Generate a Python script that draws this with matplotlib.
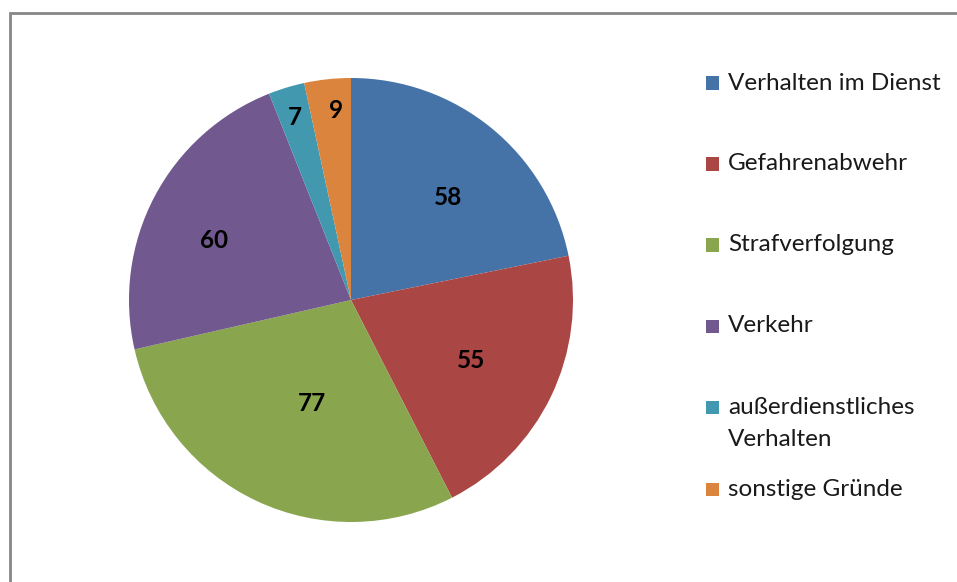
import numpy as np
import matplotlib
matplotlib.use("Agg")
import matplotlib.pyplot as plt
from matplotlib.patches import Rectangle

CATEGORIES = ["Verhalten im Dienst", "Gefahrenabwehr", "Strafverfolgung",
              "Verkehr", "außerdienstliches\nVerhalten", "sonstige Gründe"]
VALUES = [58, 55, 77, 60, 7, 9]
COLOURS = ["#4572A7", "#AA4643", "#89A54E", "#71588F", "#4198AF", "#DB843D"]

# value-label placement: fraction of the radius and angle nudge (degrees)
LABEL_R = [0.645, 0.60, 0.49, 0.675, 0.872, 0.868]
LABEL_DA = [-3.5, 0.0, 4.0, 3.6, 0.0, -1.5]

W, H = 957, 582
FONT = "Lato"

fig = plt.figure(figsize=(W / 100, H / 100), dpi=100)

# chart frame (only left and top edges visible in the crop)
fig.add_artist(Rectangle((9.5 / W, -0.1), 2.0, (H - 12.5) / H + 0.1,
                         transform=fig.transFigure, fill=False,
                         edgecolor="#878787", linewidth=2.0))

cx, cy, r = 351, H - 300, 222
ax = fig.add_axes([(cx - r) / W, (cy - r) / H, 2 * r / W, 2 * r / H])
wedges, _ = ax.pie(VALUES, colors=COLOURS, startangle=90, counterclock=False,
                   wedgeprops={"linewidth": 0})
ax.set_xlim(-1, 1)
ax.set_ylim(-1, 1)
ax.set_aspect("auto")
ax.axis("off")

for w, v, lr, da in zip(wedges, VALUES, LABEL_R, LABEL_DA):
    mid = np.deg2rad((w.theta1 + w.theta2) / 2 + da)
    ax.text(lr * np.cos(mid), lr * np.sin(mid) - 0.01, str(v), ha="center",
            va="center", fontsize=17.5, fontweight="bold", family=FONT,
            color="#000000")

# legend, drawn by hand so the square sits on the first text line
y = H - 83
for label, colour in zip(CATEGORIES, COLOURS):
    lines = label.split("\n")
    fig.add_artist(Rectangle((706 / W, (y - 6.5) / H), 13 / W, 13 / H,
                             transform=fig.transFigure, facecolor=colour,
                             edgecolor="none"))
    for k, line in enumerate(lines):
        fig.text(728 / W, (y - 32 * k) / H, line, ha="left", va="center",
                 fontsize=17.5, family=FONT, color="#1A1A1A")
    y -= 81 + (1 if len(lines) > 1 else 0)

fig.savefig("out.png", dpi=100)
